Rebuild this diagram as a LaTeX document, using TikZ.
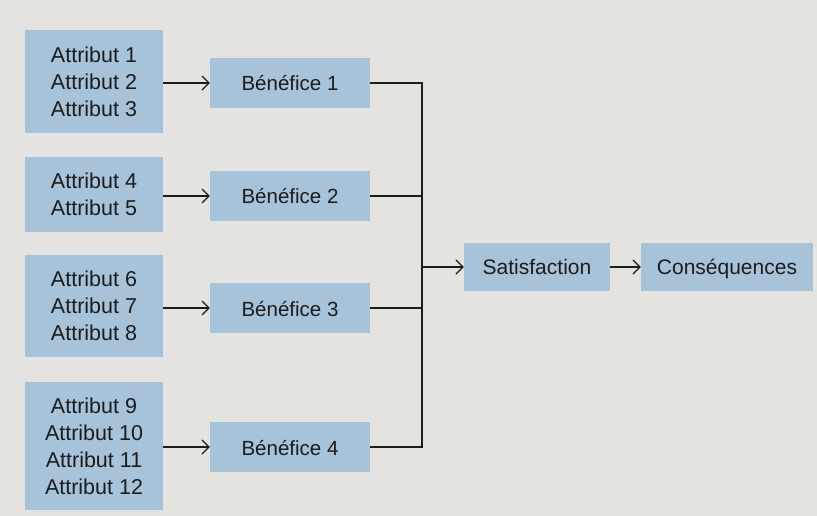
\documentclass[tikz,border=0pt]{standalone}
\usepackage{fontspec}
\setmainfont{Liberation Sans}
\usetikzlibrary{arrows.meta}
\definecolor{boxblue}{RGB}{166,195,218}
\definecolor{paper}{RGB}{228,227,224}
\definecolor{ink}{RGB}{28,28,28}
\begin{document}
\begin{tikzpicture}[
  x=1pt, y=-1pt,
  attr/.style={rectangle, fill=boxblue, minimum width=138pt, align=center,
    text=ink, font=\fontsize{21.5}{27}\selectfont, inner sep=0pt},
  benef/.style={rectangle, fill=boxblue, minimum width=160pt,
    minimum height=50pt, text height=18pt, text depth=2pt,
    text=ink, font=\fontsize{20.5}{24}\selectfont},
  result/.style={rectangle, fill=boxblue, minimum height=48pt,
    text height=17pt, text depth=3pt,
    text=ink, font=\fontsize{21}{24}\selectfont},
  arrow/.style={-{Straight Barb[length=7pt, width=14pt, line width=1.2pt]},
    ink, line width=1.3pt},
  link/.style={ink, line width=1.3pt},
]
\fill[paper] (0,0) rectangle (817,516);
\useasboundingbox (0,0) rectangle (817,516);

\node[attr, minimum height=103pt] (a1) at (94, 81.5)
  {Attribut 1\\Attribut 2\\Attribut 3};
\node[attr, minimum height=75pt] (a2) at (94, 194.5)
  {Attribut 4\\Attribut 5};
\node[attr, minimum height=102pt] (a3) at (94, 306)
  {Attribut 6\\Attribut 7\\Attribut 8};
\node[attr, minimum height=128pt] (a4) at (94, 446)
  {Attribut 9\\Attribut 10\\Attribut 11\\Attribut 12};

\node[benef] (b1) at (290, 83) {Bénéfice 1};
\node[benef] (b2) at (290, 196) {Bénéfice 2};
\node[benef] (b3) at (290, 308) {Bénéfice 3};
\node[benef] (b4) at (290, 447) {Bénéfice 4};

\draw[arrow] (a1.east |- b1) -- (b1);
\draw[arrow] (a2.east |- b2) -- (b2);
\draw[arrow] (a3.east |- b3) -- (b3);
\draw[arrow] (a4.east |- b4) -- (b4);

\node[result, minimum width=146pt] (sat) at (537, 267) {Satisfaction};
\node[result, minimum width=172pt] (cons) at (727, 267) {Conséquences};

\coordinate (bus) at (422, 267);
\draw[link] (b1.east) -| (bus);
\draw[link] (b4.east) -| (bus);
\draw[link] (b2.east) -- (b2 -| bus);
\draw[link] (b3.east) -- (b3 -| bus);
\draw[arrow] (bus) -- (sat);
\draw[arrow] (sat) -- (cons);

\end{tikzpicture}
\end{document}
